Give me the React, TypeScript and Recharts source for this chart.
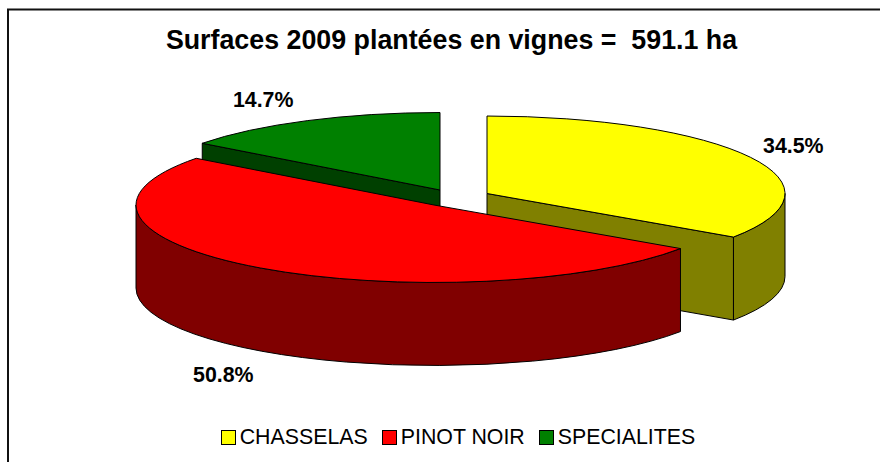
import { PieChart, Pie, Cell, Legend } from "recharts";

const categories = ["SPECIALITES", "CHASSELAS", "PINOT NOIR"];
const shares = [14.7, 34.5, 50.8];
const legendOrder = ["CHASSELAS", "PINOT NOIR", "SPECIALITES"];
const chartTitle = "Surfaces 2009 plantées en vignes =  591.1 ha";

const topColors: Record<string, string> = {
  CHASSELAS: "#ffff00",
  "PINOT NOIR": "#ff0000",
  SPECIALITES: "#008000",
};
const sideColors: Record<string, string> = {
  CHASSELAS: "#808000",
  "PINOT NOIR": "#800000",
  SPECIALITES: "#004000",
};

// how far each slice is pulled out of the pie
const explode: Record<string, { dx: number; dy: number }> = {
  CHASSELAS: { dx: 53, dy: -11.5 },
  "PINOT NOIR": { dx: 0, dy: 0 },
  SPECIALITES: { dx: 6, dy: -15 },
};
// label position relative to the rim point at the slice's mid angle
const labelNudge: Record<string, { dx: number; dy: number }> = {
  CHASSELAS: { dx: 43, dy: -4 },
  "PINOT NOIR": { dx: -37, dy: 31 },
  SPECIALITES: { dx: -44, dy: -14 },
};

const WIDTH = 880;
const HEIGHT = 462;
const FONT = "'Liberation Sans', Arial, sans-serif";
const TILT = 0.26; // ellipse height / width
const DEPTH = 83;
const RADIUS = 298;

const chartData = categories.map((name, i) => ({ name, value: shares[i] }));
// start so that the CHASSELAS slice begins at 12 o'clock; back slice is drawn first
const startAngle = 90 + (shares[0] * 360) / 100;

const rad = (deg: number) => (deg * Math.PI) / 180;

function Slice3D(props: any) {
  const { cx, cy, outerRadius, startAngle: s, endAngle: e, name, fill } = props;
  const { dx, dy } = explode[name];
  const ox = cx + dx;
  const oy = cy + dy;
  const rx = outerRadius;
  const ry = outerRadius * TILT;
  const pt = (deg: number, drop = 0) =>
    [ox + rx * Math.cos(rad(deg)), oy - ry * Math.sin(rad(deg)) + drop] as const;
  const arc = (from: number, to: number, drop = 0) => {
    const [x, y] = pt(to, drop);
    const large = Math.abs(to - from) > 180 ? 1 : 0;
    const sweep = to < from ? 1 : 0;
    return `A ${rx} ${ry} 0 ${large} ${sweep} ${x} ${y}`;
  };

  const [sx, sy] = pt(s);
  const faces: string[] = [];

  // cut faces, only the ones turned to the viewer
  if (Math.sin(rad(s + 90)) < -0.001) {
    const [x, y] = pt(s);
    faces.push(`M ${ox} ${oy} L ${x} ${y} L ${x} ${y + DEPTH} L ${ox} ${oy + DEPTH} Z`);
  }
  if (Math.sin(rad(e - 90)) < -0.001) {
    const [x, y] = pt(e);
    faces.push(`M ${ox} ${oy} L ${x} ${y} L ${x} ${y + DEPTH} L ${ox} ${oy + DEPTH} Z`);
  }

  // outer rim: the part of the sweep in the front half
  const from = Math.min(s, 0);
  const to = Math.max(e, -180);
  if (from > to) {
    const [x0, y0] = pt(from);
    const [x1, y1] = pt(to, DEPTH);
    faces.push(`M ${x0} ${y0} ${arc(from, to)} L ${x1} ${y1} ${arc(to, from, DEPTH)} Z`);
  }

  const [ex, ey] = pt(e);
  return (
    <g>
      {faces.map((d, i) => (
        <path key={i} d={d} fill={sideColors[name]} stroke="#000" strokeWidth={1} />
      ))}
      <path
        d={`M ${ox} ${oy} L ${sx} ${sy} ${arc(s, e)} L ${ex} ${ey} Z`}
        fill={fill}
        stroke="#000"
        strokeWidth={1}
      />
    </g>
  );
}

function renderLabel(props: any) {
  const { cx, cy, outerRadius, midAngle, name, value } = props;
  const ex = explode[name];
  const nudge = labelNudge[name];
  const mid = rad(midAngle);
  const front = Math.sin(mid) < 0 ? DEPTH : 0;
  const x = cx + ex.dx + outerRadius * Math.cos(mid) + nudge.dx;
  const y = cy + ex.dy - outerRadius * TILT * Math.sin(mid) + front + nudge.dy;
  return (
    <text x={x} y={y} textAnchor="middle" fontFamily={FONT} fontSize={21.33} fontWeight="bold" fill="#000">
      {`${value.toFixed(1)}%`}
    </text>
  );
}

function PieLegend() {
  return (
    <div
      style={{
        display: "flex",
        justifyContent: "center",
        fontFamily: FONT,
        fontSize: 21.33,
        color: "#000",
        lineHeight: "24px",
      }}
    >
      {legendOrder.map((name) => (
        <span key={name} style={{ display: "flex", alignItems: "center", marginRight: 14 }}>
          <span
            style={{
              width: 13,
              height: 13,
              marginRight: 4,
              background: topColors[name],
              border: "1px solid #000",
            }}
          />
          {name}
        </span>
      ))}
    </div>
  );
}

export default function App() {
  return (
    <div style={{ position: "absolute", left: 0, top: 0, width: WIDTH, height: HEIGHT, background: "#fff" }}>
      <PieChart width={WIDTH} height={HEIGHT} margin={{ top: 0, right: 0, bottom: 0, left: 0 }}>
        <path d={`M 8 462 L 8 9.5 L 880 9.5`} fill="none" stroke="#111" strokeWidth={2} />
        <text x={451.5} y={49} textAnchor="middle" fontFamily={FONT} fontSize={26.8} fontWeight="bold" fill="#000" xmlSpace="preserve">
          {chartTitle}
        </text>
        <Pie
          data={chartData}
          dataKey="value"
          nameKey="name"
          cx={434}
          cy={205}
          outerRadius={RADIUS}
          startAngle={startAngle}
          endAngle={startAngle - 360}
          shape={Slice3D}
          label={renderLabel}
          labelLine={false}
          isAnimationActive={false}
        >
          {chartData.map((d) => (
            <Cell key={d.name} fill={topColors[d.name]} />
          ))}
        </Pie>
        <Legend
          content={PieLegend}
          layout="horizontal"
          verticalAlign="bottom"
          align="center"
          wrapperStyle={{ left: 0, width: 930, bottom: 13 }}
        />
      </PieChart>
    </div>
  );
}
